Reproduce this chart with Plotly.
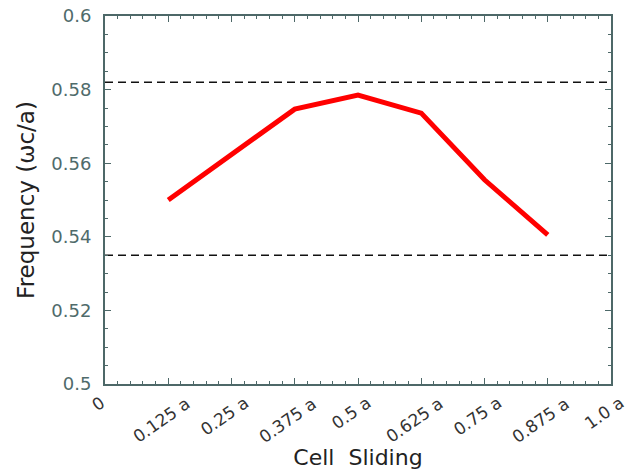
import plotly.graph_objects as go

# Data
sliding = [0.125, 0.25, 0.375, 0.5, 0.625, 0.75, 0.875]
frequency = [0.5500, 0.5625, 0.5747, 0.5785, 0.5736, 0.5555, 0.5405]
band_upper = 0.582
band_lower = 0.535
x_tickvals = [0, 0.125, 0.25, 0.375, 0.5, 0.625, 0.75, 0.875, 1.0]
x_ticktext = ["0", "0.125 a", "0.25 a", "0.375 a", "0.5 a", "0.625 a", "0.75 a", "0.875 a", "1.0 a"]
y_tickvals = [0.5, 0.52, 0.54, 0.56, 0.58, 0.6]
y_ticktext = ["0.5", "0.52", "0.54", "0.56", "0.58", "0.6"]

axis_color = "#4d6868"
font_family = "DejaVu Sans, Verdana, sans-serif"

fig = go.Figure()
for yv in [band_upper, band_lower]:
    fig.add_trace(go.Scatter(x=[0, 1.0], y=[yv, yv], mode="lines",
                             line=dict(color="#111111", width=1.5, dash="8px,5px"),
                             showlegend=False, hoverinfo="skip"))
fig.add_trace(go.Scatter(x=sliding, y=frequency, mode="lines",
                         line=dict(color="#ff0000", width=5),
                         showlegend=False))

# rotated x tick labels, centred under their ticks
for xv, txt in zip(x_tickvals, x_ticktext):
    fig.add_annotation(x=xv, y=0, xref="x", yref="paper", text=txt,
                       showarrow=False, textangle=-35, xanchor="center", yanchor="top",
                       xshift=-7, yshift=-6,
                       font=dict(size=17, color="#333333", family=font_family))

fig.update_layout(
    width=626, height=476,
    margin=dict(l=105, r=15, t=16, b=92),
    paper_bgcolor="white", plot_bgcolor="white",
    font=dict(family=font_family),
)
fig.update_xaxes(
    range=[0, 1.0], tickvals=x_tickvals, ticktext=x_ticktext, showticklabels=False,
    automargin=False,
    showgrid=False, zeroline=False, showline=True, linecolor=axis_color, linewidth=2,
    mirror="allticks", ticks="inside", ticklen=6, tickcolor=axis_color, tickwidth=1,
    minor=dict(ticks="inside", dtick=0.025, ticklen=3, tickcolor=axis_color, showgrid=False),
    title=dict(text="Cell  Sliding", font=dict(size=22, color="#222222"), standoff=65),
)
fig.update_yaxes(
    range=[0.5, 0.6], tickvals=y_tickvals, ticktext=y_ticktext,
    automargin=False, ticklabelstandoff=8,
    showgrid=False, zeroline=False, showline=True, linecolor=axis_color, linewidth=2,
    mirror="allticks", ticks="inside", ticklen=6, tickcolor=axis_color, tickwidth=1,
    minor=dict(ticks="inside", dtick=0.005, ticklen=3, tickcolor=axis_color, showgrid=False),
    tickfont=dict(size=18, color="#4f6b6b"),
    title=dict(text="Frequency (ωc/a)", font=dict(size=23, color="#222222"), standoff=10),
)

fig.write_html("out.html")
